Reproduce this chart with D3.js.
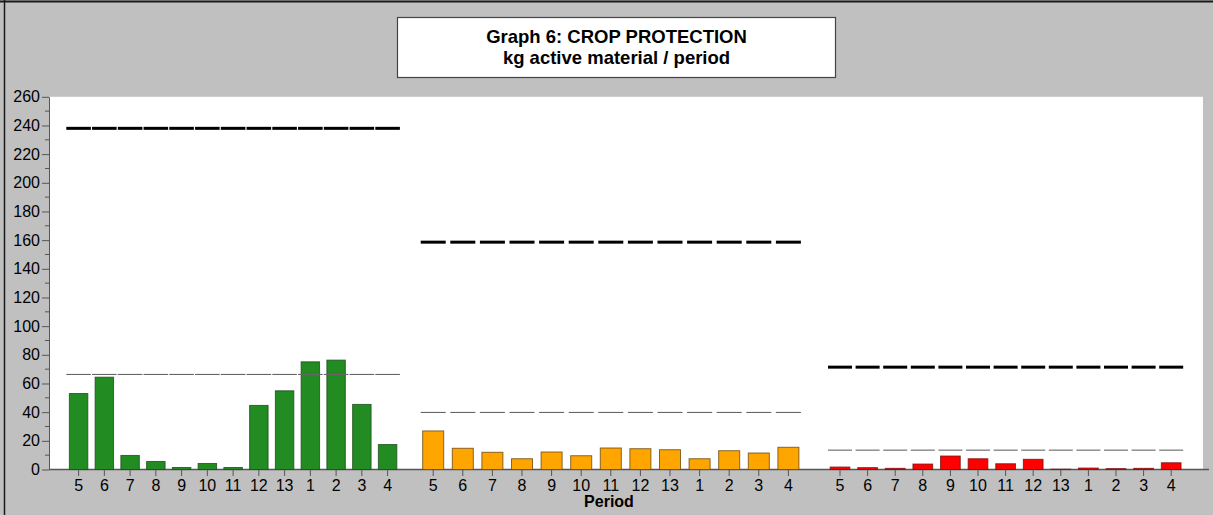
<!DOCTYPE html>
<html>
<head>
<meta charset="utf-8">
<script src="https://cdn.jsdelivr.net/npm/d3@7"></script>
<style>
  html, body { margin: 0; padding: 0; background: #c0c0c0; }
  svg { display: block; font-family: "Liberation Sans", Arial, sans-serif; }
</style>
</head>
<body>
<svg id="chart" width="1213" height="515"></svg>
<script>
// ---- data ----
const periods = ["5","6","7","8","9","10","11","12","13","1","2","3","4"];
const greenValues  = [53.0, 64.4, 9.8, 5.6, 1.4, 4.2, 1.4, 44.7, 54.9, 75.1, 76.3, 45.4, 17.4];
const orangeValues = [26.9, 14.8, 12.0, 7.5, 12.2, 9.6, 15.0, 14.5, 13.8, 7.5, 13.1, 11.5, 15.5];
const redValues    = [1.7, 1.3, 0.8, 3.8, 9.4, 7.5, 4.0, 7.1, 0.2, 1.0, 0.6, 0.8, 4.7];
const maxLevels = [238, 158.6, 71.4];
const avgLevels = [66.3, 39.8, 13.5];
const yTicks = [0, 20, 40, 60, 80, 100, 120, 140, 160, 180, 200, 220, 240, 260];
const titleLines = ["Graph 6: CROP PROTECTION", "kg active material / period"];
const xTitle = "Period";

// ---- layout / style ----
const groups = [
  { values: greenValues,  fill: "#228b22", stroke: "#1b4d1b", range: [66.3, 399.9], pad: 0.045, barFrac: 0.75 },
  { values: orangeValues, fill: "#ffa500", stroke: "#6b4a10", range: [420.7, 800.9], pad: 0.155, barFrac: 0.84 },
  { values: redValues,    fill: "#ff0000", stroke: "#7a1010", range: [828, 1183.2], pad: 0.13, barFrac: 0.82 }
];

const svg = d3.select("#chart");
const W = 1213, H = 515;
const plot = { left: 49, right: 1203, top: 96.8, bottom: 469.5 };

// background
svg.append("rect").attr("x", 0).attr("y", 0).attr("width", W).attr("height", H).attr("fill", "#c0c0c0");
// frame lines
svg.append("line").attr("x1", 0).attr("x2", W).attr("y1", 1.5).attr("y2", 1.5).attr("stroke", "#1a1a1a").attr("stroke-width", 2);
svg.append("line").attr("x1", 4.5).attr("x2", 4.5).attr("y1", 0).attr("y2", H).attr("stroke", "#1a1a1a").attr("stroke-width", 1.5);

// plot area
svg.append("rect")
  .attr("x", plot.left).attr("y", plot.top)
  .attr("width", plot.right - plot.left).attr("height", plot.bottom - plot.top)
  .attr("fill", "#ffffff");

// title box
const tb = svg.append("g");
tb.append("rect").attr("x", 397.5).attr("y", 17.5).attr("width", 438).attr("height", 60)
  .attr("fill", "#ffffff").attr("stroke", "#444").attr("stroke-width", 1.2);
tb.selectAll("text").data(titleLines).join("text")
  .attr("x", 616.5).attr("y", (d, i) => 42.8 + i * 20.8)
  .attr("text-anchor", "middle")
  .attr("font-size", 18.5).attr("font-weight", "bold").attr("fill", "#000")
  .text(d => d);

// y scale
const y = d3.scaleLinear().domain([0, 260]).range([plot.bottom, plot.top]);

// minor ticks
const minor = d3.range(10, 260, 20);
svg.append("g").selectAll("line").data(minor).join("line")
  .attr("x1", plot.left - 4).attr("x2", plot.left)
  .attr("y1", d => y(d)).attr("y2", d => y(d))
  .attr("stroke", "#555").attr("stroke-width", 1);

// y axis
const yAxis = svg.append("g")
  .attr("transform", `translate(${plot.left},0)`)
  .call(d3.axisLeft(y).tickValues(yTicks).tickSize(7).tickPadding(2).tickSizeOuter(0));
yAxis.select(".domain").attr("stroke", "#555");
yAxis.selectAll(".tick line").attr("stroke", "#555");
yAxis.selectAll(".tick text").attr("font-size", 16).attr("fill", "#000")
  .attr("font-family", "Liberation Sans, Arial, sans-serif");

// x axis baseline
svg.append("line").attr("x1", plot.left).attr("x2", 1209)
  .attr("y1", plot.bottom).attr("y2", plot.bottom)
  .attr("stroke", "#555").attr("stroke-width", 1.3);

groups.forEach((g, gi) => {
  const x = d3.scaleBand().domain(periods).range(g.range).paddingInner(g.pad).paddingOuter(0);
  const bw = x.bandwidth();
  const barW = bw * g.barFrac;
  const gg = svg.append("g");

  // bars
  gg.selectAll("rect.bar").data(g.values).join("rect")
    .attr("class", "bar")
    .attr("x", (d, i) => x(periods[i]) + (bw - barW) / 2)
    .attr("y", d => y(d))
    .attr("width", barW)
    .attr("height", d => y(0) - y(d))
    .attr("fill", g.fill)
    .attr("stroke", g.stroke).attr("stroke-width", 1).attr("stroke-opacity", 0.8);

  // average line (thin gray dashes)
  gg.selectAll("line.avg").data(periods).join("line")
    .attr("class", "avg")
    .attr("x1", d => x(d)).attr("x2", d => x(d) + bw)
    .attr("y1", y(avgLevels[gi])).attr("y2", y(avgLevels[gi]))
    .attr("stroke", "#666").attr("stroke-width", 1.1);

  // max line (thick black dashes)
  gg.selectAll("line.max").data(periods).join("line")
    .attr("class", "max")
    .attr("x1", d => x(d)).attr("x2", d => x(d) + bw)
    .attr("y1", y(maxLevels[gi])).attr("y2", y(maxLevels[gi]))
    .attr("stroke", "#000").attr("stroke-width", 3);

  // x axis ticks/labels
  const xa = svg.append("g")
    .attr("transform", `translate(0,${plot.bottom})`)
    .call(d3.axisBottom(x).tickSize(6.5).tickPadding(4).tickSizeOuter(0));
  xa.select(".domain").remove();
  xa.selectAll(".tick line").attr("stroke", "#555");
  xa.selectAll(".tick text").attr("font-size", 16).attr("fill", "#000")
    .attr("font-family", "Liberation Sans, Arial, sans-serif");
});

// x title
svg.append("text").attr("x", 609).attr("y", 507)
  .attr("text-anchor", "middle").attr("font-size", 16).attr("font-weight", "bold")
  .attr("fill", "#000").text(xTitle);
</script>
</body>
</html>
